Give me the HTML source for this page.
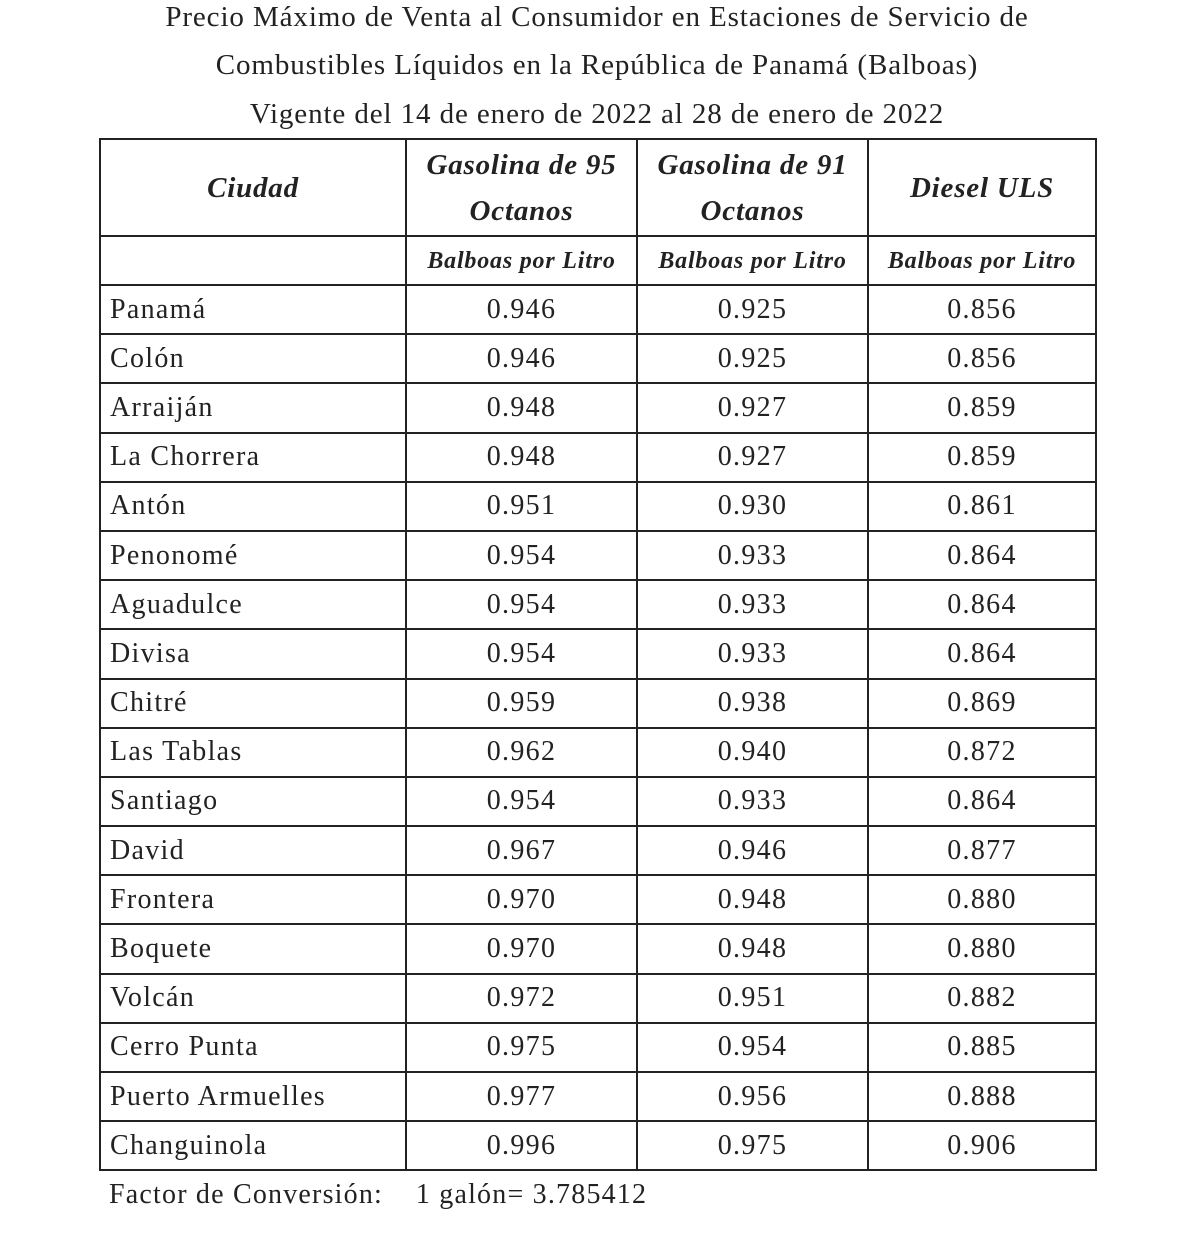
<!DOCTYPE html>
<html><head><meta charset="utf-8"><style>
html,body{margin:0;padding:0;background:#fff;width:1200px;height:1245px;overflow:hidden}
body{font-family:"Liberation Serif",serif;color:#222;position:relative}
.t{position:absolute;left:0;width:1194px;text-align:center;font-size:29px;line-height:30px;letter-spacing:0.9px}
table{position:absolute;left:99px;top:138px;border-collapse:collapse;table-layout:fixed;width:996px}
td{border:2px solid #222;padding:0;font-size:28px;letter-spacing:1.3px;text-align:center;vertical-align:middle;line-height:30px}
td.c{text-align:left;padding-left:9px}
.h td{font-weight:bold;font-style:italic;font-size:29px;letter-spacing:0.8px;line-height:46px}
.s td{font-weight:bold;font-style:italic;font-size:24px;letter-spacing:0.8px}
tr.d{height:49.2px}
.f{position:absolute;left:109px;top:1180px;font-size:28px;line-height:30px;letter-spacing:1.2px}
</style></head><body>
<div class="t" style="top:2px">Precio Máximo de Venta al Consumidor en Estaciones de Servicio de</div>
<div class="t" style="top:50px">Combustibles Líquidos en la República de Panamá (Balboas)</div>
<div class="t" style="top:99px">Vigente del 14 de enero de 2022 al 28 de enero de 2022</div>
<table>
<colgroup><col style="width:306px"><col style="width:231px"><col style="width:231px"><col style="width:228px"></colgroup>
<tr class="h" style="height:97px"><td style="line-height:30px">Ciudad</td><td>Gasolina de 95<br>Octanos</td><td>Gasolina de 91<br>Octanos</td><td style="line-height:30px">Diesel ULS</td></tr>
<tr class="s" style="height:49px"><td></td><td>Balboas por Litro</td><td>Balboas por Litro</td><td>Balboas por Litro</td></tr>
<tr class="d"><td class="c">Panamá</td><td>0.946</td><td>0.925</td><td>0.856</td></tr>
<tr class="d"><td class="c">Colón</td><td>0.946</td><td>0.925</td><td>0.856</td></tr>
<tr class="d"><td class="c">Arraiján</td><td>0.948</td><td>0.927</td><td>0.859</td></tr>
<tr class="d"><td class="c">La Chorrera</td><td>0.948</td><td>0.927</td><td>0.859</td></tr>
<tr class="d"><td class="c">Antón</td><td>0.951</td><td>0.930</td><td>0.861</td></tr>
<tr class="d"><td class="c">Penonomé</td><td>0.954</td><td>0.933</td><td>0.864</td></tr>
<tr class="d"><td class="c">Aguadulce</td><td>0.954</td><td>0.933</td><td>0.864</td></tr>
<tr class="d"><td class="c">Divisa</td><td>0.954</td><td>0.933</td><td>0.864</td></tr>
<tr class="d"><td class="c">Chitré</td><td>0.959</td><td>0.938</td><td>0.869</td></tr>
<tr class="d"><td class="c">Las Tablas</td><td>0.962</td><td>0.940</td><td>0.872</td></tr>
<tr class="d"><td class="c">Santiago</td><td>0.954</td><td>0.933</td><td>0.864</td></tr>
<tr class="d"><td class="c">David</td><td>0.967</td><td>0.946</td><td>0.877</td></tr>
<tr class="d"><td class="c">Frontera</td><td>0.970</td><td>0.948</td><td>0.880</td></tr>
<tr class="d"><td class="c">Boquete</td><td>0.970</td><td>0.948</td><td>0.880</td></tr>
<tr class="d"><td class="c">Volcán</td><td>0.972</td><td>0.951</td><td>0.882</td></tr>
<tr class="d"><td class="c">Cerro Punta</td><td>0.975</td><td>0.954</td><td>0.885</td></tr>
<tr class="d"><td class="c">Puerto Armuelles</td><td>0.977</td><td>0.956</td><td>0.888</td></tr>
<tr class="d"><td class="c">Changuinola</td><td>0.996</td><td>0.975</td><td>0.906</td></tr>
</table>
<div class="f">Factor de Conversión:&nbsp;&nbsp;&nbsp; 1 galón= 3.785412</div>
</body></html>
